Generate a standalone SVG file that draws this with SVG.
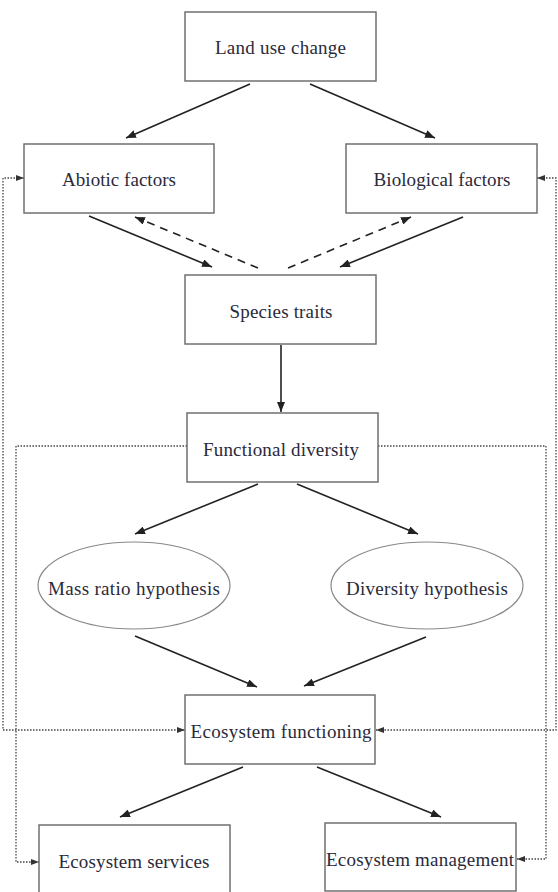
<svg xmlns="http://www.w3.org/2000/svg" width="558" height="892" viewBox="0 0 558 892">
<defs>
<style>
.box{fill:#fff;stroke:#707070;stroke-width:1.5}
.ell{fill:#fff;stroke:#888;stroke-width:1.2}
.lbl{font-family:"Liberation Serif","Times New Roman",serif;font-size:19px;fill:#2a2a3a;text-anchor:middle}
.arr{fill:none;stroke:#222;stroke-width:1.6;marker-end:url(#ah)}
.dash{fill:none;stroke:#222;stroke-width:1.6;stroke-dasharray:8 6;marker-end:url(#ah)}
.dot{fill:none;stroke:#444;stroke-width:1.3;stroke-dasharray:1.5 1.5}
</style>
<marker id="ah" viewBox="0 0 10 8" refX="10" refY="4" markerWidth="10" markerHeight="8" markerUnits="userSpaceOnUse" orient="auto"><path d="M0,0 L10,4 L0,8 z" fill="#222"/></marker>
<marker id="dh" viewBox="0 0 8 6" refX="8" refY="3" markerWidth="8" markerHeight="6" markerUnits="userSpaceOnUse" orient="auto-start-reverse"><path d="M0,0 L8,3 L0,6 z" fill="#333"/></marker>
</defs>
<rect width="558" height="892" fill="#fff"/>

<g id="connectors">
<line class="arr" x1="250" y1="84" x2="126" y2="138"/>
<line class="arr" x1="310" y1="84" x2="435" y2="138"/>
<line class="arr" x1="89" y1="216" x2="212" y2="267"/>
<line class="dash" x1="258" y1="268" x2="135" y2="217"/>
<line class="arr" x1="463" y1="217" x2="340" y2="267"/>
<line class="dash" x1="288" y1="268" x2="411" y2="217"/>
<line class="arr" x1="281" y1="345" x2="281" y2="412"/>
<line class="arr" x1="258" y1="484" x2="135" y2="534"/>
<line class="arr" x1="297" y1="484" x2="418" y2="534"/>
<line class="arr" x1="135" y1="636" x2="257" y2="687"/>
<line class="arr" x1="426" y1="637" x2="304" y2="686"/>
<line class="arr" x1="243" y1="767" x2="120" y2="817"/>
<line class="arr" x1="317" y1="767" x2="441" y2="817"/>
<path class="dot" d="M24,178 H3 V730 H185" marker-start="url(#dh)" marker-end="url(#dh)"/>
<path class="dot" d="M537,178 H556 V730 H376" marker-start="url(#dh)" marker-end="url(#dh)"/>
<path class="dot" d="M187,446 H16 V862 H39" marker-end="url(#dh)"/>
<path class="dot" d="M378,446 H546 V859 H517" marker-end="url(#dh)"/>
</g>

<g id="land-use-change"><rect class="box" x="185" y="12" width="191" height="69"/><text class="lbl" x="280.5" y="54" textLength="131" lengthAdjust="spacing">Land use change</text></g>
<g id="abiotic-factors"><rect class="box" x="24" y="144" width="190" height="69"/><text class="lbl" x="119" y="186" textLength="114" lengthAdjust="spacing">Abiotic factors</text></g>
<g id="biological-factors"><rect class="box" x="346" y="144" width="191" height="69"/><text class="lbl" x="442" y="186" textLength="137" lengthAdjust="spacing">Biological factors</text></g>
<g id="species-traits"><rect class="box" x="185" y="275" width="191" height="69"/><text class="lbl" x="281" y="318" textLength="103" lengthAdjust="spacing">Species traits</text></g>
<g id="functional-diversity"><rect class="box" x="187" y="413" width="191" height="69"/><text class="lbl" x="281" y="456" textLength="156" lengthAdjust="spacing">Functional diversity</text></g>
<g id="mass-ratio-hypothesis"><ellipse class="ell" cx="134" cy="585.5" rx="96" ry="43.5"/><text class="lbl" x="134" y="595" textLength="172" lengthAdjust="spacing">Mass ratio hypothesis</text></g>
<g id="diversity-hypothesis"><ellipse class="ell" cx="427" cy="585.5" rx="96" ry="43.5"/><text class="lbl" x="427" y="595" textLength="162" lengthAdjust="spacing">Diversity hypothesis</text></g>
<g id="ecosystem-functioning"><rect class="box" x="185" y="695" width="190" height="69"/><text class="lbl" x="281" y="738" textLength="181" lengthAdjust="spacing">Ecosystem functioning</text></g>
<g id="ecosystem-services"><rect class="box" x="39" y="825" width="191" height="69"/><text class="lbl" x="134" y="868" textLength="151" lengthAdjust="spacing">Ecosystem services</text></g>
<g id="ecosystem-management"><rect class="box" x="325" y="823" width="191" height="68"/><text class="lbl" x="420" y="866" textLength="188" lengthAdjust="spacing">Ecosystem management</text></g>
</svg>
